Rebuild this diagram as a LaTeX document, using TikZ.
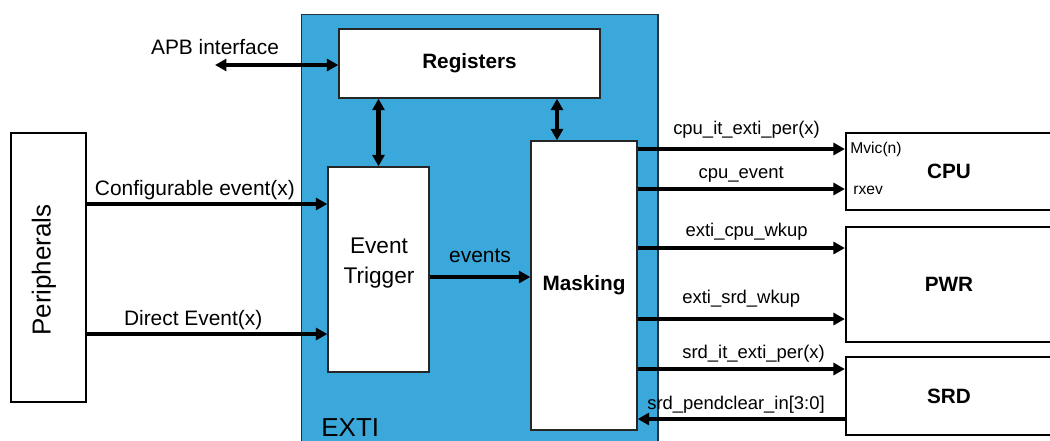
\documentclass[tikz,border=0pt]{standalone}
\usepackage{fontspec}
\setmainfont{Liberation Sans}
\usepackage{tikz}
\usetikzlibrary{arrows.meta}
\definecolor{EXTIBlue}{HTML}{3AA8DA}
\definecolor{EXTIEdge}{HTML}{1F3440}

\begin{document}
\begin{tikzpicture}[x=0.02cm,y=-0.02cm,>={Triangle[length=6.5pt,width=6.8pt]}]
  \tikzstyle{extibox}=[draw=EXTIEdge,fill=EXTIBlue,line width=0.6pt,
    minimum width=7.14cm,minimum height=8.72cm,inner sep=0pt]
  \tikzstyle{blockbox}=[draw=black!85,fill=white,line width=0.8pt,inner sep=0pt]
  \tikzstyle{outbox}=[draw=black,fill=white,line width=1.3pt,inner sep=0pt]
  \tikzstyle{sig}=[->,line width=2.3pt]
  \tikzstyle{bisig}=[<->,line width=2.3pt]
  \tikzstyle{leftlbl}=[font=\fontsize{11.9}{14}\selectfont,inner sep=0pt]
  \tikzstyle{rightlbl}=[font=\fontsize{10.5}{12}\selectfont,inner sep=0pt]
  \tikzstyle{boldlbl}=[font=\fontsize{11.8}{14}\selectfont\bfseries]
  \tikzstyle{pinlbl}=[anchor=west,inner sep=0pt,font=\fontsize{8.9}{10}\selectfont]
  \useasboundingbox (0,0) rectangle (1050,440);

  % EXTI block and its inner parts
  \node[extibox] (exti) at (479.5,232) {};
  \node[anchor=west,inner sep=0pt,font=\fontsize{14.8}{16}\selectfont] (extilbl) at (321,428) {EXTI};
  \node[blockbox,boldlbl,minimum width=5.22cm,minimum height=1.38cm] (reg) at (469.5,63.5) {Registers};
  \node[blockbox,minimum width=2.02cm,minimum height=4.1cm] (trig) at (378.5,269.5) {};
  \node[align=center,inner sep=0pt,font=\fontsize{12.9}{17}\selectfont] (triglbl) at (379,263) {Event\\Trigger};
  \node[blockbox,boldlbl,minimum width=2.12cm,minimum height=5.78cm] (mask) at (584,285.5) {Masking};

  % outside blocks
  \node[outbox,minimum width=1.5cm,minimum height=5.38cm] (periph) at (48.5,267.5) {};
  \node[rotate=90,inner sep=0pt,font=\fontsize{14.8}{16}\selectfont] (periphlbl) at (44,270) {Peripherals};
  \node[outbox,boldlbl,minimum width=4.12cm,minimum height=1.54cm] (cpu) at (949,171.5) {CPU};
  \node[outbox,boldlbl,minimum width=4.12cm,minimum height=2.3cm] (pwr) at (949,284.5) {PWR};
  \node[outbox,boldlbl,minimum width=4.12cm,minimum height=1.56cm] (srd) at (949,396) {SRD};
  \node[pinlbl] (mvic) at (850,149) {Mvic(n)};
  \node[pinlbl] (rxev) at (853,190) {rxev};

  % bus
  \coordinate (apb) at (215,65);
  \node[leftlbl] (apblbl) at (215,47) {APB interface};
  \draw[bisig] (apb) -- (reg.west |- apb);
  \draw[bisig] (reg.south -| trig.north) -- (trig.north);
  \draw[bisig] (reg.south -| 557,0) -- (mask.north -| 557,0);

  % inputs
  \draw[sig] (periph.east |- 0,204) -- (trig.west |- 0,204)
    node[leftlbl,midway,above=1.3pt,xshift=-7pt] (cfglbl) {Configurable event(x)};
  \draw[sig] (periph.east |- 0,334) -- (trig.west |- 0,334)
    node[leftlbl,midway,above=1.3pt,xshift=-8pt] (dirlbl) {Direct Event(x)};
  \draw[sig] (trig.east |- 0,277) -- (mask.west |- 0,277)
    node[leftlbl,midway,above=7pt] (evlbl) {events};

  % outputs
  \draw[sig] (mask.east |- 0,149) -- (cpu.west |- 0,149)
    node[rightlbl,midway,above=5pt,xshift=3pt] (itlbl) {cpu\_it\_exti\_per(x)};
  \draw[sig] (mask.east |- 0,189) -- (cpu.west |- 0,189)
    node[rightlbl,midway,above=2.8pt] (cevlbl) {cpu\_event};
  \draw[sig] (mask.east |- 0,248) -- (pwr.west |- 0,248)
    node[rightlbl,midway,above=3.3pt,xshift=3pt] (cwklbl) {exti\_cpu\_wkup};
  \draw[sig] (mask.east |- 0,319) -- (pwr.west |- 0,319)
    node[rightlbl,midway,above=5.5pt] (swklbl) {exti\_srd\_wkup};
  \draw[sig] (mask.east |- 0,369) -- (srd.west |- 0,369)
    node[rightlbl,midway,above=2.8pt,xshift=7pt] (sitlbl) {srd\_it\_exti\_per(x)};
  \draw[sig] (srd.west |- 0,419) -- (mask.east |- 0,419)
    node[rightlbl,midway,above=2.3pt,xshift=-3pt] (pclbl) {srd\_pendclear\_in[3:0]};
\end{tikzpicture}
\end{document}
